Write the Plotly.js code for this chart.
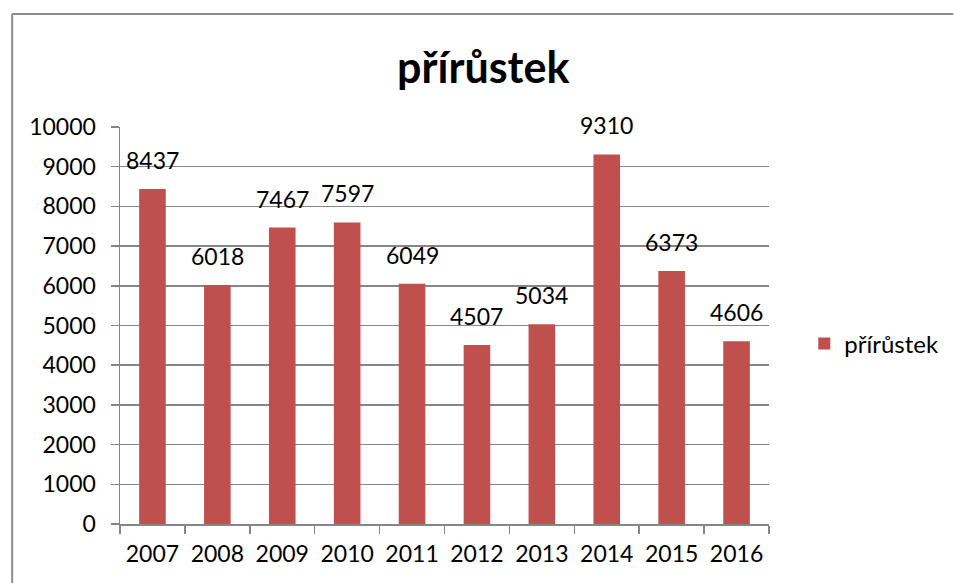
<!DOCTYPE html>
<html>
<head>
<meta charset="utf-8">
<script src="https://cdn.plot.ly/plotly-3.0.1.min.js"></script>
<style>
html,body{margin:0;padding:0;background:#fff;}
#chart{width:956px;height:583px;}
</style>
</head>
<body>
<div id="chart"></div>
<script>
const years = ["2007","2008","2009","2010","2011","2012","2013","2014","2015","2016"];
const values = [8437, 6018, 7467, 7597, 6049, 4507, 5034, 9310, 6373, 4606];
const seriesName = "přírůstek";
const chartTitle = "přírůstek";

const FONT = "Lato, 'Open Sans', sans-serif";
const GRAY = "#868686";
const BAR = "#C0504D";

const L = 120, R = 782, T = 127, B = 524;
const pw = R - L, ph = B - T;
const px = x => (x - L) / pw;
const py = y => (B - y) / ph;

const trace = {
  type: "bar",
  x: years,
  y: values,
  name: seriesName,
  marker: {color: BAR, line: {width: 0}},
  showlegend: true,
  hoverinfo: "x+y"
};

const labelAnn = years.map((yr, i) => ({
  x: i, y: values[i], xref: "x", yref: "y",
  text: String(values[i]), showarrow: false,
  yanchor: "bottom", yshift: 13,
  font: {family: FONT, size: 23, color: "#000"}
}));

const layout = {
  width: 956, height: 583,
  margin: {l: L, r: 956 - R, t: T, b: 583 - B, pad: 0},
  paper_bgcolor: "rgba(0,0,0,0)",
  plot_bgcolor: "rgba(0,0,0,0)",
  font: {family: FONT, size: 23, color: "#000"},
  bargap: 0.59,
  xaxis: {
    type: "category",
    range: [-0.5, years.length - 0.5],
    showline: true, linecolor: GRAY, linewidth: 1.5,
    ticks: "outside", tickson: "boundaries", ticklen: 8, tickcolor: GRAY, tickwidth: 1.5,
    ticklabelstandoff: 9,
    showgrid: false, zeroline: false, tickangle: 0,
    tickfont: {family: FONT, size: 23, color: "#000"}
  },
  yaxis: {
    range: [0, 10000], dtick: 1000, tickformat: "d",
    showline: true, linecolor: GRAY, linewidth: 1.5,
    ticks: "outside", ticklen: 8, tickcolor: GRAY, tickwidth: 1.5,
    ticklabelstandoff: 10,
    showgrid: true, gridcolor: GRAY, gridwidth: 1.5,
    zeroline: false,
    tickfont: {family: FONT, size: 23, color: "#000"}
  },
  legend: {
    x: px(818), y: py(344), xanchor: "left", yanchor: "middle",
    font: {family: FONT, size: 24, color: "#000"},
    bgcolor: "rgba(0,0,0,0)", itemwidth: 30
  },
  annotations: [
    {
      x: px(490), y: py(67), xref: "paper", yref: "paper",
      text: "<b>" + chartTitle + "</b>", showarrow: false,
      xanchor: "center", yanchor: "middle",
      font: {family: FONT, size: 43, color: "#000"}
    }
  ].concat(labelAnn),
  shapes: [
    {type: "line", xref: "paper", yref: "paper", x0: px(10), x1: px(10), y0: py(14), y1: py(600), line: {color: "#8c8c8c", width: 2}},
    {type: "line", xref: "paper", yref: "paper", x0: px(10), x1: px(970), y0: py(14), y1: py(14), line: {color: "#8c8c8c", width: 2}}
  ]
};

Plotly.newPlot("chart", [trace], layout, {displayModeBar: false, staticPlot: true});
</script>
</body>
</html>
